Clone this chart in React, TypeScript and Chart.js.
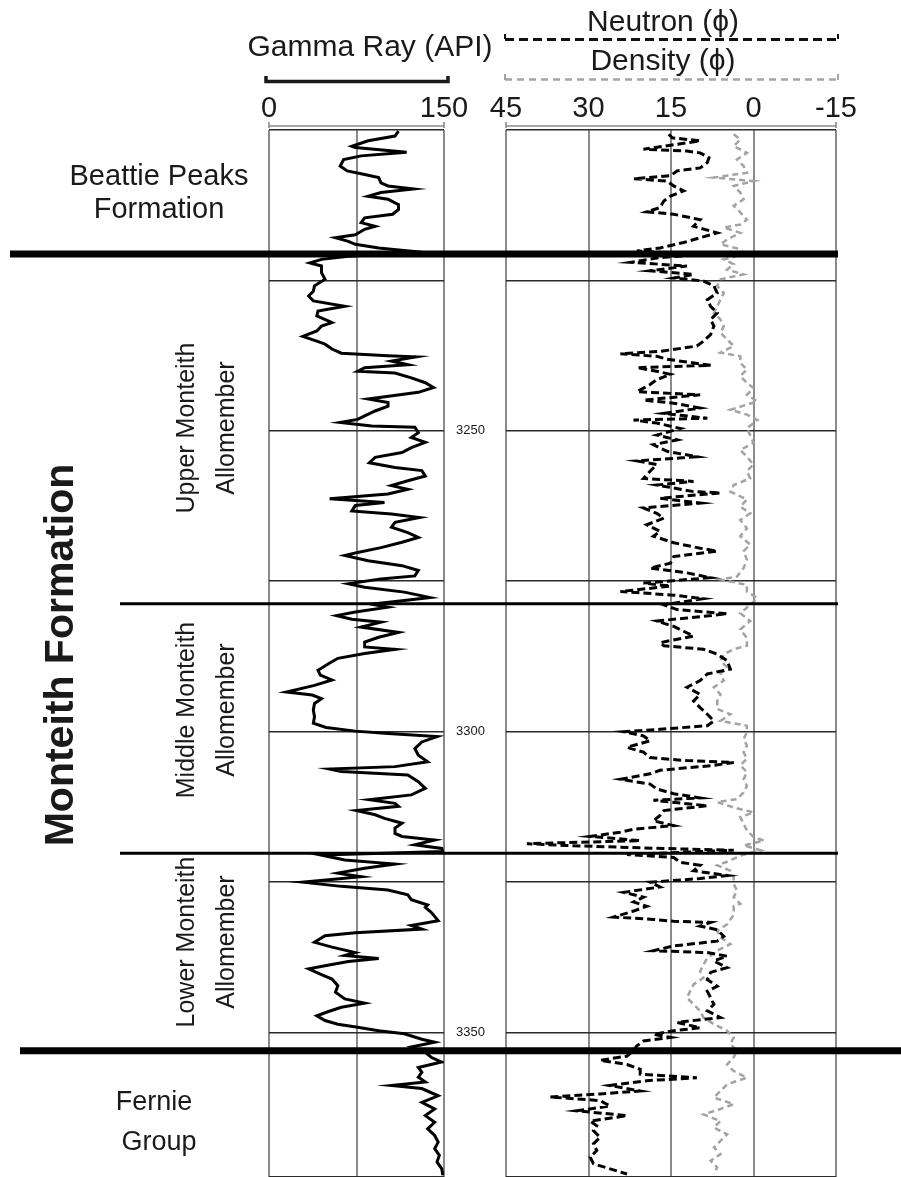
import React, { useEffect, useRef } from "react";
import { Chart, registerables } from "chart.js";

Chart.register(...registerables);

const W = 901;
const H = 1177;
const FONT = '"Liberation Sans", Arial, Helvetica, sans-serif';

// ---------------- data ----------------
const depthMin = 3200;
const depthMax = 3374;
const depthGridStep = 25;
const depthLabels = [3250, 3300, 3350];
const grTicks = [0, 150];
const grGridStep = 75;
const porTicks = [45, 30, 15, 0, -15];
const porGridStep = 15;
const boundaryDepths = [3220.6, 3278.75, 3320.2, 3353.0];

const grDepth = [
  3200.2, 3201.0, 3201.8, 3202.7, 3202.9, 3203.7, 3204.3, 3204.9, 3206.0, 3206.8, 3207.4, 3207.9, 3208.8, 3209.3, 3209.8, 3210.4, 3211.0, 3211.5, 3212.4, 3213.2, 3214.0, 3214.6, 3215.4, 3216.0, 3216.5, 3217.4, 3217.9, 3218.5, 3219.0, 3219.6, 3220.3, 3221.0, 3221.5, 3222.1, 3222.6, 3223.7, 3224.8, 3225.9, 3226.8, 3227.6, 3228.4, 3229.3, 3230.1, 3230.9, 3232.0, 3232.6, 3233.4, 3234.3, 3235.1, 3235.6, 3236.4, 3237.1, 3237.5, 3237.7, 3238.4, 3239.0, 3239.5, 3240.1, 3240.4, 3241.2, 3242.0, 3242.8,
  3243.6, 3244.7, 3245.3, 3245.9, 3246.7, 3247.5, 3248.1, 3248.6, 3249.2, 3249.4, 3250.3, 3251.1, 3251.9, 3252.8, 3253.6, 3254.4, 3255.3, 3256.1, 3256.6, 3257.5, 3258.3, 3259.1, 3259.7, 3260.5, 3261.3, 3261.9, 3262.4, 3263.3, 3263.8, 3264.4, 3265.2, 3266.0, 3266.9, 3267.7, 3268.5, 3269.4, 3270.2, 3270.7, 3271.6, 3272.4, 3273.2, 3274.1, 3274.6, 3275.4, 3276.0, 3276.8, 3277.7, 3278.2, 3278.8, 3279.3, 3280.1, 3280.7, 3281.3, 3281.8, 3282.6, 3283.5, 3284.3, 3285.1,
  3285.9, 3286.3, 3287.0, 3287.8, 3288.7, 3289.8, 3290.6, 3291.4, 3292.3, 3293.4, 3293.9, 3294.5, 3295.3, 3296.4, 3297.5, 3298.6, 3299.3, 3299.9, 3300.3, 3300.8, 3301.7, 3302.8, 3303.9, 3305.0, 3305.8, 3306.2, 3306.6, 3307.2, 3308.3, 3309.4, 3310.5, 3311.3, 3311.9, 3312.4, 3313.1, 3313.8, 3314.4, 3315.2, 3316.0, 3316.9, 3317.4, 3318.0, 3318.8, 3319.4, 3319.9, 3320.5, 3321.3, 3322.0, 3322.7, 3323.5, 3324.1, 3325.0, 3325.7, 3326.3, 3327.1, 3327.9, 3328.8,
  3329.2, 3330.0, 3331.4, 3332.2, 3332.8, 3333.4, 3333.9, 3335.0, 3335.8, 3336.7, 3337.2, 3337.7, 3338.2, 3338.9, 3339.4, 3340.3, 3341.1, 3342.2, 3343.3, 3344.4, 3345.1, 3345.8, 3346.5, 3347.2, 3348.0, 3348.6, 3349.1, 3349.7, 3350.2, 3351.1, 3351.6, 3352.4, 3353.3, 3354.1, 3354.9, 3355.8, 3356.6, 3357.4, 3358.2, 3358.8, 3359.3, 3360.5, 3361.6, 3362.7, 3363.8, 3364.9, 3366.0, 3367.1, 3368.2, 3369.3, 3370.4, 3371.5, 3372.6, 3373.7,
];
const grApi = [
  111, 108, 85, 71, 74, 118, 79, 64, 61, 67, 82, 94, 96, 102, 124, 96, 85, 102, 111, 111, 106, 82, 79, 91, 82, 74, 57, 68, 74, 94, 131, 68, 45, 35, 45, 45, 48, 39, 38, 34, 38, 65, 42, 41, 54, 45, 41, 29, 41, 48, 54, 62, 102, 126, 105, 119, 82, 76, 108, 122, 134, 141,
  128, 85, 102, 102, 91, 82, 76, 61, 88, 125, 128, 122, 134, 122, 114, 91, 86, 108, 131, 134, 119, 105, 119, 102, 52, 99, 74, 71, 105, 129, 108, 105, 119, 128, 114, 96, 76, 65, 85, 114, 128, 125, 96, 68, 82, 116, 138, 116, 88, 102, 74, 58, 71, 96, 79, 111, 94, 82,
  82, 108, 82, 59, 51, 42, 44, 54, 39, 15, 37, 45, 39, 38, 39, 38, 49, 74, 102, 144, 131, 125, 128, 136, 108, 52, 62, 119, 128, 134, 122, 86, 108, 111, 75, 91, 99, 114, 108, 108, 114, 142, 125, 148, 149, 45, 65, 108, 82, 59, 79, 29, 62, 102, 119, 122, 136,
  134, 139, 145, 122, 131, 74, 48, 39, 54, 74, 65, 94, 68, 48, 34, 44, 54, 59, 57, 65, 82, 62, 51, 41, 48, 59, 76, 94, 116, 131, 142, 122, 134, 139, 148, 128, 131, 128, 134, 105, 131, 145, 131, 142, 134, 142, 136, 142, 145, 142, 146, 144, 148, 149,
];

const neutronDepth = [
  3200.7, 3201.3, 3201.8, 3203.2, 3203.5, 3203.8, 3204.6, 3205.4, 3206.3, 3206.8, 3207.6, 3208.1, 3208.5, 3209.3, 3210.1, 3211.0, 3211.8, 3212.9, 3213.6, 3214.0, 3214.9, 3216.0, 3217.1, 3217.9, 3218.7, 3219.6, 3220.1, 3220.7, 3221.2, 3222.0, 3222.6, 3223.4, 3224.0, 3224.6, 3225.1, 3225.9, 3227.1, 3228.2, 3229.3, 3230.4, 3231.5, 3232.6, 3234.0, 3235.1, 3235.9, 3236.8, 3237.2, 3237.6, 3238.1, 3239.1, 3239.5, 3240.1, 3240.6, 3241.5, 3242.3,
  3242.9, 3243.5, 3244.0, 3244.9, 3245.4, 3246.2, 3247.1, 3247.9, 3248.2, 3248.7, 3249.6, 3250.7, 3251.5, 3252.3, 3253.4, 3254.3, 3255.0, 3255.6, 3256.7, 3257.9, 3258.4, 3259.0, 3260.1, 3260.3, 3261.2, 3262.0, 3262.8, 3263.7, 3264.5, 3265.6, 3266.7, 3267.5, 3268.6, 3269.5, 3270.0, 3270.9, 3272.0, 3272.8, 3273.6, 3274.4, 3275.3, 3275.8, 3276.7, 3277.3, 3277.9, 3278.9, 3279.7, 3280.4, 3281.1, 3281.6, 3282.5, 3283.3, 3284.1, 3285.2,
  3285.7, 3286.3, 3287.1, 3288.2, 3289.6, 3290.4, 3291.5, 3292.6, 3293.8, 3294.9, 3296.0, 3297.1, 3298.2, 3299.0, 3299.6, 3300.0, 3300.7, 3301.5, 3302.6, 3303.4, 3304.3, 3304.8, 3305.1, 3305.6, 3306.4, 3307.0, 3307.9, 3308.7, 3309.5, 3310.3, 3311.0, 3311.4, 3312.3, 3313.1, 3313.9, 3314.8, 3315.6, 3316.2, 3316.7, 3317.4, 3318.1, 3318.6, 3318.9, 3319.3, 3319.7, 3320.4, 3320.9, 3321.7, 3322.2, 3323.1, 3323.9, 3324.4, 3325.0, 3325.8, 3326.7, 3327.5, 3328.3,
  3329.0, 3329.8, 3330.8, 3331.2, 3331.5, 3331.7, 3332.3, 3332.9, 3334.0, 3334.8, 3335.6, 3336.4, 3336.7, 3337.3, 3338.1, 3339.2, 3340.0, 3341.2, 3342.3, 3343.1, 3344.2, 3345.3, 3346.4, 3347.5, 3348.3, 3349.2, 3349.7, 3350.3, 3350.8, 3351.4, 3352.2, 3353.0, 3353.9, 3354.6, 3355.3, 3356.1, 3356.9, 3357.5, 3358.0, 3358.8, 3359.7, 3360.2, 3360.7, 3361.3, 3362.2, 3363.0, 3363.8, 3364.7, 3365.5, 3366.3, 3367.4, 3368.5, 3369.6, 3370.7, 3371.8, 3373.0, 3373.5,
];
const neutronPhi = [
  15.4, 14.8, 9.7, 20, 12.1, 9.7, 8.1, 8.4, 9.7, 13.9, 15.1, 21.8, 15.7, 14.5, 12.7, 15.1, 16.3, 17, 19.4, 14.5, 9.7, 10.9, 6.6, 9.7, 12.7, 17, 21.2, 9.7, 17, 22.4, 12.1, 18.8, 10.9, 14.5, 9.1, 7.2, 6.6, 8.4, 7.8, 6.6, 7.8, 7.2, 7.8, 9.1, 10.3, 17, 24.2, 17.6, 15.7, 7.8, 21.2, 17.6, 15.1, 17.6, 18.8,
  20, 21.2, 9.7, 20, 14.5, 9.7, 16.3, 8.4, 21.8, 17.6, 13.3, 17.6, 13.9, 18.2, 15.7, 10.3, 21.2, 17.6, 18.8, 20, 10.9, 17.6, 10.9, 6.0, 17, 9.7, 20, 17.6, 16.3, 19.4, 17, 18.2, 14.5, 9.7, 6.6, 14.5, 15.1, 18.8, 12.1, 7.8, 20, 15.1, 24.2, 14.5, 9.1, 16.3, 13.9, 4.8, 12.1, 17.6, 14.5, 12.7, 10.9, 17,
  16.3, 9.1, 6.6, 4.8, 4.2, 8.4, 9.7, 12.1, 9.7, 10.9, 9.7, 8.4, 7.2, 8.4, 17, 23.6, 20, 18.8, 23, 20, 18.8, 12.1, 3.6, 7.2, 17, 18.8, 24.2, 18.8, 17.6, 14.5, 9.7, 18.2, 8.4, 16.3, 17, 18.2, 14.5, 21.8, 24.2, 29.7, 20.6, 41.2, 34, 20.6, 3.6, 23, 14.5, 13.3, 9.7, 10.9, 4.8, 9.7, 18.8, 17, 23.6, 20, 21.8,
  19.4, 21.8, 25.4, 18.2, 14.5, 7.8, 9.7, 6.6, 5.4, 6.6, 14.5, 18.2, 8.4, 4.8, 7.2, 4.8, 7.8, 8.4, 6.6, 8.4, 7.8, 7.2, 8.4, 6.0, 13.9, 9.7, 14.5, 18.2, 15.1, 20, 21.2, 21.8, 23, 27.9, 23, 20.6, 20.6, 10.3, 19.4, 26.1, 20.6, 27.9, 37, 27.9, 26.1, 32.1, 23, 29.7, 28.5, 29.1, 27.9, 29.1, 28.5, 29.7, 29.1, 24.8, 23,
];

const densityDepth = [
  3200.7, 3201.6, 3202.7, 3203.8, 3204.9, 3206.0, 3207.1, 3207.9, 3208.5, 3209.3, 3210.4, 3211.5, 3212.6, 3213.7, 3214.9, 3215.7, 3216.2, 3217.1, 3218.2, 3219.0, 3219.8, 3220.7, 3221.5, 3222.3, 3223.2, 3224.0, 3224.8, 3225.9, 3227.1, 3228.2, 3229.3, 3230.4, 3231.5, 3232.6, 3233.7, 3234.8, 3235.9, 3237.0, 3237.6, 3238.7, 3239.8, 3240.9, 3242.0,
  3242.9, 3244.0, 3245.1, 3246.5, 3247.3, 3248.2, 3249.6, 3250.7, 3252.0, 3253.2, 3254.3, 3255.6, 3256.7, 3257.9, 3259.0, 3260.1, 3261.4, 3262.6, 3263.7, 3264.8, 3266.2, 3267.5, 3268.9, 3270.0, 3271.4, 3272.8, 3274.2, 3274.7, 3275.6, 3276.7, 3277.8, 3278.9, 3280.3, 3281.6, 3283.0, 3284.4,
  3285.7, 3286.3, 3287.1, 3288.2, 3289.3, 3290.4, 3291.5, 3292.6, 3293.8, 3294.9, 3296.2, 3297.1, 3298.2, 3299.0, 3300.1, 3301.2, 3302.3, 3303.4, 3304.5, 3305.6, 3306.7, 3307.9, 3309.0, 3310.1, 3311.2, 3311.7, 3312.6, 3313.4, 3314.2, 3315.3, 3316.4, 3317.5, 3318.1, 3318.9, 3319.7, 3320.6, 3321.4, 3322.2, 3323.1, 3324.2, 3325.3, 3326.4, 3327.5, 3328.6,
  3329.0, 3330.4, 3332.0, 3333.1, 3334.2, 3335.3, 3336.4, 3337.6, 3338.7, 3339.8, 3340.9, 3342.0, 3343.1, 3344.2, 3345.3, 3346.4, 3347.5, 3348.6, 3349.7, 3350.8, 3351.9, 3353.0, 3354.1, 3355.3, 3356.4, 3357.5, 3358.6, 3359.7, 3360.8, 3361.9, 3362.7, 3363.6, 3364.7, 3365.8, 3366.9, 3368.0, 3369.1, 3370.2, 3371.3, 3372.4, 3373.5,
];
const densityPhi = [
  3.6, 2.4, 3.6, 1.2, 3.0, 1.8, 1.2, 7.2, 0, 3.6, 2.4, 1.8, 3.6, 2.4, 1.2, 2.4, 5.4, 2.4, 4.8, 6.0, 2.4, 1.8, 5.4, 3.6, 4.8, 1.8, 6.0, 6.6, 5.4, 6.0, 6.6, 7.2, 6.0, 5.4, 6.0, 4.8, 3.6, 6.0, 2.4, 2.4, 1.2, 2.4, 1.2,
  0, 1.2, -0.7, 4.2, 1.2, -0.7, 1.2, 0.6, 0, 2.4, 1.2, 0, 1.2, 0.6, 3.6, 4.2, 1.2, 2.4, 0.6, 2.4, 1.2, 2.4, 0.6, 1.8, 1.2, 1.8, 3.0, 6.0, 1.2, 1.2, -0.7, 0.6, 2.4, 0.6, 2.4, 1.2,
  1.2, 3.6, 5.4, 6.0, 4.8, 6.0, 5.4, 7.2, 6.0, 6.6, 6.6, 4.2, 6.0, 1.2, 1.2, 1.8, 1.2, 1.8, 1.2, 2.4, 1.2, 1.8, 1.2, 1.8, 3.0, 6.6, 3.6, 0, 2.4, 1.8, 1.2, 0, -1.9, 1.8, -1.3, 2.4, 4.2, 6.6, 4.2, 3.6, 3.6, 3.0, 3.6, 2.4,
  3.6, 3.6, 4.8, 6.6, 6.0, 4.2, 6.6, 8.4, 9.1, 9.7, 9.1, 10.9, 11.5, 12.1, 10.9, 9.7, 9.1, 7.2, 4.8, 3.6, 4.2, 3.0, 3.6, 4.8, 3.6, 1.2, 4.8, 6.0, 7.2, 3.6, 6.0, 9.1, 6.0, 7.2, 4.8, 6.0, 7.2, 6.0, 7.8, 6.6, 7.2,
];

// ---------------- layout / style ----------------
const GR_LEFT = 269;
const GR_RIGHT = 444;
const ND_LEFT = 506;
const ND_RIGHT = 836;
const TRACK_TOP = 130;
const TEXT = "#1a1a1a";
const VGRID = "#8a8a8a";
const HGRID = "#2a2a2a";
const DENS = "#a3a3a3";

// per-boundary drawing style (x-extent in px, width)
const boundaryStyle = [
  { from: 10, to: 838, width: 7 },
  { from: 120, to: 838, width: 3 },
  { from: 120, to: 838, width: 3 },
  { from: 20, to: 901, width: 7 },
];

const zeroWidth = (s: any) => {
  if (s.isHorizontal()) s.height = 0;
  else s.width = 0;
};

function depthScale() {
  return {
    type: "linear",
    position: "left",
    min: depthMin,
    max: depthMax,
    reverse: true,
    ticks: { display: false, stepSize: depthGridStep },
    grid: { color: HGRID, lineWidth: 1.6, drawTicks: false },
    border: { display: false },
    afterFit: zeroWidth,
  };
}

function rotatedText(ctx: CanvasRenderingContext2D, text: string, x: number, y: number) {
  ctx.save();
  ctx.translate(x, y);
  ctx.rotate(-Math.PI / 2);
  ctx.textAlign = "center";
  ctx.textBaseline = "middle";
  ctx.fillText(text, 0, 0);
  ctx.restore();
}

function bracket(ctx: CanvasRenderingContext2D, x0: number, x1: number, y: number, up: number, down: number) {
  ctx.beginPath();
  ctx.moveTo(x0, y - up);
  ctx.lineTo(x0, y + down);
  ctx.moveTo(x0, y);
  ctx.lineTo(x1, y);
  ctx.moveTo(x1, y - up);
  ctx.lineTo(x1, y + down);
  ctx.stroke();
}

const grDecor = {
  id: "grDecor",
  afterDraw(chart: any) {
    const { ctx } = chart;
    const xs = chart.scales.x;
    const ys = chart.scales.y;
    const x0 = xs.getPixelForValue(0);
    const x1 = xs.getPixelForValue(150);
    ctx.save();
    ctx.fillStyle = TEXT;
    ctx.strokeStyle = TEXT;

    // header
    ctx.font = `30px ${FONT}`;
    ctx.textAlign = "center";
    ctx.textBaseline = "alphabetic";
    ctx.fillText("Gamma Ray (API)", 370, 56);
    ctx.lineWidth = 3.5;
    ctx.beginPath();
    ctx.moveTo(x0 - 3, 76);
    ctx.lineTo(x0 - 3, 81.5);
    ctx.lineTo(x1 + 4, 81.5);
    ctx.lineTo(x1 + 4, 76);
    ctx.stroke();
    ctx.font = `29px ${FONT}`;
    grTicks.forEach((v) => ctx.fillText(String(v), xs.getPixelForValue(v), 117));
    ctx.strokeStyle = VGRID;
    ctx.lineWidth = 1.6;
    bracket(ctx, x0, x1, 126, 4, 2);

    // depth labels
    ctx.fillStyle = TEXT;
    ctx.font = `13px ${FONT}`;
    ctx.textAlign = "left";
    ctx.textBaseline = "middle";
    depthLabels.forEach((d) => ctx.fillText(String(d), x1 + 12, ys.getPixelForValue(d)));

    // formation labels
    ctx.font = `29px ${FONT}`;
    ctx.textAlign = "center";
    ctx.textBaseline = "alphabetic";
    ctx.fillText("Beattie Peaks", 159, 185);
    ctx.fillText("Formation", 159, 218);

    ctx.font = `27px ${FONT}`;
    ctx.fillText("Fernie", 154, 1110);
    ctx.fillText("Group", 159, 1150);

    ctx.font = `bold 41px ${FONT}`;
    rotatedText(ctx, "Monteith Formation", 62, 655);

    ctx.font = `25px ${FONT}`;
    rotatedText(ctx, "Upper Monteith", 187, 428);
    rotatedText(ctx, "Allomember", 227, 428);
    rotatedText(ctx, "Middle Monteith", 187, 710);
    rotatedText(ctx, "Allomember", 227, 710);
    rotatedText(ctx, "Lower Monteith", 187, 942);
    rotatedText(ctx, "Allomember", 227, 942);
    ctx.restore();
  },
};

const ndDecor = {
  id: "ndDecor",
  afterDraw(chart: any) {
    const { ctx } = chart;
    const xs = chart.scales.x;
    const ys = chart.scales.y;
    const x0 = xs.getPixelForValue(45);
    const x1 = xs.getPixelForValue(-15);
    ctx.save();
    ctx.fillStyle = TEXT;
    ctx.font = `30px ${FONT}`;
    ctx.textAlign = "center";
    ctx.textBaseline = "alphabetic";
    ctx.fillText("Neutron (\u03D5)", 663, 31);
    ctx.fillText("Density (\u03D5)", 663, 70);

    // neutron key line
    ctx.strokeStyle = "#111";
    ctx.lineWidth = 3;
    ctx.setLineDash([9, 5]);
    ctx.beginPath();
    ctx.moveTo(x0 - 1, 39.5);
    ctx.lineTo(x1 + 2, 39.5);
    ctx.stroke();
    ctx.setLineDash([]);
    ctx.lineWidth = 2;
    ctx.beginPath();
    ctx.moveTo(x0 - 1, 34);
    ctx.lineTo(x0 - 1, 39);
    ctx.moveTo(x1 + 2, 34);
    ctx.lineTo(x1 + 2, 39);
    ctx.stroke();

    // density key line
    ctx.strokeStyle = DENS;
    ctx.lineWidth = 2.5;
    ctx.setLineDash([7, 5]);
    ctx.beginPath();
    ctx.moveTo(x0 - 1, 79.5);
    ctx.lineTo(x1 + 2, 79.5);
    ctx.stroke();
    ctx.setLineDash([]);
    ctx.lineWidth = 2;
    ctx.beginPath();
    ctx.moveTo(x0 - 1, 74);
    ctx.lineTo(x0 - 1, 80);
    ctx.moveTo(x1 + 2, 74);
    ctx.lineTo(x1 + 2, 80);
    ctx.stroke();

    ctx.font = `29px ${FONT}`;
    porTicks.forEach((v) => ctx.fillText(String(v), xs.getPixelForValue(v), 117));

    ctx.strokeStyle = VGRID;
    ctx.lineWidth = 1.6;
    bracket(ctx, x0, x1, 126, 4, 2);

    // formation boundaries
    ctx.strokeStyle = "#000";
    boundaryDepths.forEach((d, i) => {
      const st = boundaryStyle[i];
      const y = ys.getPixelForValue(d);
      ctx.lineWidth = st.width;
      ctx.beginPath();
      ctx.moveTo(st.from, y);
      ctx.lineTo(st.to, y);
      ctx.stroke();
    });
    ctx.restore();
  },
};

export default function App() {
  const refA = useRef<HTMLCanvasElement>(null);
  const refB = useRef<HTMLCanvasElement>(null);

  useEffect(() => {
    const common = {
      responsive: false,
      animation: false,
      indexAxis: "y",
      events: [],
      plugins: { legend: { display: false }, tooltip: { enabled: false } },
      elements: { point: { radius: 0 }, line: { tension: 0 } },
    };

    const grChart = new Chart(refA.current as HTMLCanvasElement, {
      type: "line",
      data: {
        datasets: [
          {
            label: "Gamma Ray",
            data: grDepth.map((d, i) => ({ x: grApi[i], y: d })),
            borderColor: "#000",
            borderWidth: 3,
            pointRadius: 0,
            fill: false,
          },
        ],
      },
      options: {
        ...common,
        layout: { padding: { left: GR_LEFT, right: W - GR_RIGHT, top: TRACK_TOP, bottom: 0 } },
        scales: {
          x: {
            type: "linear",
            position: "top",
            min: 0,
            max: 150,
            ticks: { display: false, stepSize: grGridStep },
            grid: { color: VGRID, lineWidth: 2, drawTicks: false },
            border: { display: false },
            afterFit: zeroWidth,
          },
          y: depthScale(),
        },
      } as any,
      plugins: [grDecor],
    } as any);

    const ndChart = new Chart(refB.current as HTMLCanvasElement, {
      type: "line",
      data: {
        datasets: [
          {
            label: "Neutron",
            data: neutronDepth.map((d, i) => ({ x: neutronPhi[i], y: d })),
            borderColor: "#000",
            borderWidth: 3,
            borderDash: [8, 4],
            pointRadius: 0,
            fill: false,
            order: 0,
          },
          {
            label: "Density",
            data: densityDepth.map((d, i) => ({ x: densityPhi[i], y: d })),
            borderColor: DENS,
            borderWidth: 2.5,
            borderDash: [6, 4],
            pointRadius: 0,
            fill: false,
            order: 1,
          },
        ],
      },
      options: {
        ...common,
        layout: { padding: { left: ND_LEFT, right: W - ND_RIGHT, top: TRACK_TOP, bottom: 0 } },
        scales: {
          x: {
            type: "linear",
            position: "top",
            min: -15,
            max: 45,
            reverse: true,
            ticks: { display: false, stepSize: porGridStep },
            grid: { color: VGRID, lineWidth: 2, drawTicks: false },
            border: { display: false },
            afterFit: zeroWidth,
          },
          y: depthScale(),
        },
      } as any,
      plugins: [ndDecor],
    } as any);

    return () => {
      grChart.destroy();
      ndChart.destroy();
    };
  }, []);

  return (
    <div style={{ position: "absolute", left: 0, top: 0, width: W, height: H, background: "#fff", overflow: "hidden" }}>
      <canvas ref={refA} width={W} height={H} style={{ position: "absolute", left: 0, top: 0 }} />
      <canvas ref={refB} width={W} height={H} style={{ position: "absolute", left: 0, top: 0 }} />
    </div>
  );
}
